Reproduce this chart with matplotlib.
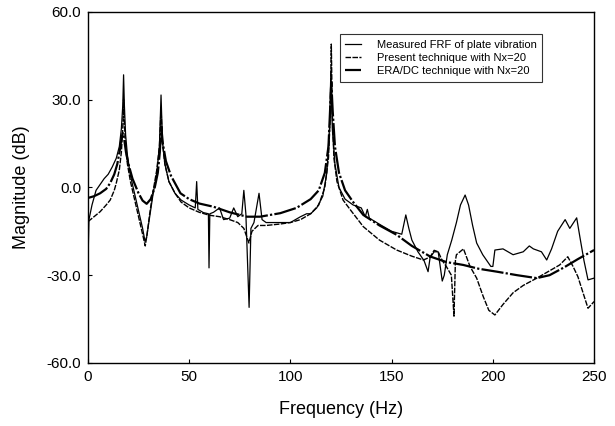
import matplotlib
matplotlib.use("Agg")
import matplotlib.pyplot as plt

plt.rcParams['font.family'] = ['Liberation Sans', 'DejaVu Sans']

# Measured FRF of plate vibration (Hz, dB)
meas_f = [0.0, 0.5, 2, 4, 6, 8, 10, 12, 14, 15.5, 16.5, 17.2, 17.6, 18.0, 18.6,
          19.5, 21, 23, 25, 27, 28.2, 29, 30.5, 32, 34, 35.3, 36.1, 36.8, 38, 40,
          43, 46, 50, 53, 53.7, 54.3, 57, 59.5, 59.8, 60.2, 62, 65, 67, 70, 72,
          74, 76, 77, 78, 79.6, 80.5, 82, 84.5, 86, 88, 95, 100, 105, 108, 110,
          113, 116, 118, 119.3, 120, 120.7, 122, 124, 127, 131, 135, 137, 138,
          139, 145, 150, 155, 157, 158.5, 160, 163, 166, 168, 169, 171, 173, 175,
          176, 177.5, 179.7, 182, 184, 186.3, 188, 190, 192, 195, 199, 200, 201,
          205, 210, 215, 218, 220, 224, 226.6, 229, 232, 235.7, 238, 241.4, 243,
          245, 247, 250]
meas_db = [-26, -11, -6, -1, 1, 3, 4.5, 7, 10, 14, 20, 28, 38.5, 28, 18,
           11, 4, -2, -8, -14, -18.5, -17, -10, -3, 5, 14, 31.6, 16, 8, 2,
           -2, -4.3, -6, -7, 2, -7.5, -8.6, -9, -27.5, -9, -8.5, -7, -11, -10.5, -7,
           -10, -9, -1, -9, -41, -14, -12, -2, -11, -12, -12, -12, -10, -9, -9,
           -7, -3, 5, 20, 40, 20, 8, 0, -4, -6, -7, -10, -7.5,
           -10.5, -13, -15, -16, -9.4, -14, -18, -22, -25, -28.8, -24, -22, -22, -32,
           -30, -23, -18, -12, -6, -2.6, -6, -13, -19, -23, -27, -27, -21.4,
           -21, -23, -22, -20, -21, -22, -24.8, -21, -15, -11, -14, -10.4, -17,
           -25, -31.6, -31]

# Present technique with Nx=20
pres_f = [0, 3, 6, 9, 11, 13, 14, 15.5, 16.5, 17.2, 17.6, 18.0, 18.6, 19.5, 21,
          23, 25, 27, 28.3, 29.2, 30.5, 32, 34, 35.3, 36.1, 36.8, 38, 40, 43, 46,
          50, 55, 60, 65, 70, 74, 77, 79.5, 81, 84, 88, 95, 100, 105, 110, 114,
          117, 118.8, 119.7, 120.2, 120.7, 121.5, 123, 126, 130, 136, 144, 152.5,
          160, 165.7, 169, 171, 173, 175, 177, 179.5, 180.8, 181.5, 182, 185.5,
          188.7, 192, 195.3, 198, 201, 205, 210, 215, 221.7, 228, 233, 237,
          239.6, 242, 245, 247, 250]
pres_db = [-11.7, -10, -8.3, -6, -4.3, -1, 1.5, 6, 12, 20, 30, 22, 14, 8, 2,
           -4, -10, -16, -20, -16, -9, -2, 6, 14, 27, 15, 8, 2, -2, -5,
           -7, -8.5, -9.5, -10, -11, -12, -14, -19, -15, -13, -13, -12.5, -12, -11, -9, -6,
           0, 10, 25, 49, 25, 10, 2, -4.3, -8, -13.4, -18, -21.4,
           -23.5, -24.8, -23.8, -21.5, -22, -25, -27, -30, -44, -25, -23, -21,
           -27, -31, -37.4, -42, -43.6, -40, -36, -33.5, -31, -28.5, -26.5, -23.7,
           -27, -30.5, -37, -41.3, -39]

# ERA/DC technique with Nx=20
era_f = [0, 3, 6, 9, 11, 13, 14.5, 15.8, 16.6, 17.2, 17.8, 18.8, 20, 22, 25,
         27, 29, 31, 33, 34.5, 35.5, 36.2, 37, 38.5, 41, 45.7, 50, 55, 62, 70,
         78.5, 85, 95, 103, 110, 114, 117, 118.8, 119.7, 120.2, 120.9, 122, 124,
         127, 131, 136, 144, 152.5, 160, 169, 177, 185.4, 193, 202, 212, 221.7,
         228, 235, 242, 250]
era_db = [-3.6, -3, -2, -0.5, 1.5, 4.5, 8, 13, 17, 18.6, 17, 12, 8, 3, -2,
          -4.5, -5.6, -4, 0, 5, 12, 20.8, 15, 9, 4, -2, -4, -5.5, -6.6, -8.5,
          -10, -10, -8.8, -7, -4, -1, 5, 14, 28, 36, 26, 14, 5,
          -1, -5, -9.4, -13, -16.2, -20, -23.6, -25.5, -26.5, -27.8, -28.8, -30, -31,
          -30, -27.4, -24.5, -21.4]

xticks = [0, 50, 100, 150, 200, 250]
yticks = [-60, -30, 0, 30, 60]

fig = plt.figure(figsize=(6.15, 4.26), dpi=100)
ax = fig.add_axes([0.143, 0.148, 0.823, 0.824])

ax.plot(meas_f, meas_db, color='black', lw=0.9, ls='-',
        label='Measured FRF of plate vibration')
ax.plot(pres_f, pres_db, color='black', lw=1.0, ls=(0, (4, 1)),
        label='Present technique with Nx=20')
ax.plot(era_f, era_db, color='black', lw=1.6, ls=(0, (10, 1, 1, 1)),
        label='ERA/DC technique with Nx=20')

ax.set_xlim(0, 250)
ax.set_ylim(-60, 60)
ax.set_xticks(xticks)
ax.set_xticklabels([str(t) for t in xticks])
ax.set_yticks(yticks)
ax.set_yticklabels(['%.1f' % t for t in yticks])
ax.tick_params(direction='in', length=3, width=0.8, labelsize=11, pad=5)
for s in ax.spines.values():
    s.set_linewidth(1.0)

ax.set_xlabel('Frequency (Hz)', fontsize=13, labelpad=12)
ax.set_ylabel('Magnitude (dB)', fontsize=13, labelpad=12)

leg = ax.legend(loc='upper right', bbox_to_anchor=(0.897, 0.937), fontsize=8,
                handlelength=1.4, frameon=True, fancybox=False, borderpad=0.5,
                labelspacing=0.3, handletextpad=1.4, borderaxespad=0)
leg.get_frame().set_edgecolor('black')
leg.get_frame().set_linewidth(0.8)

fig.savefig('out.png', dpi=100)
